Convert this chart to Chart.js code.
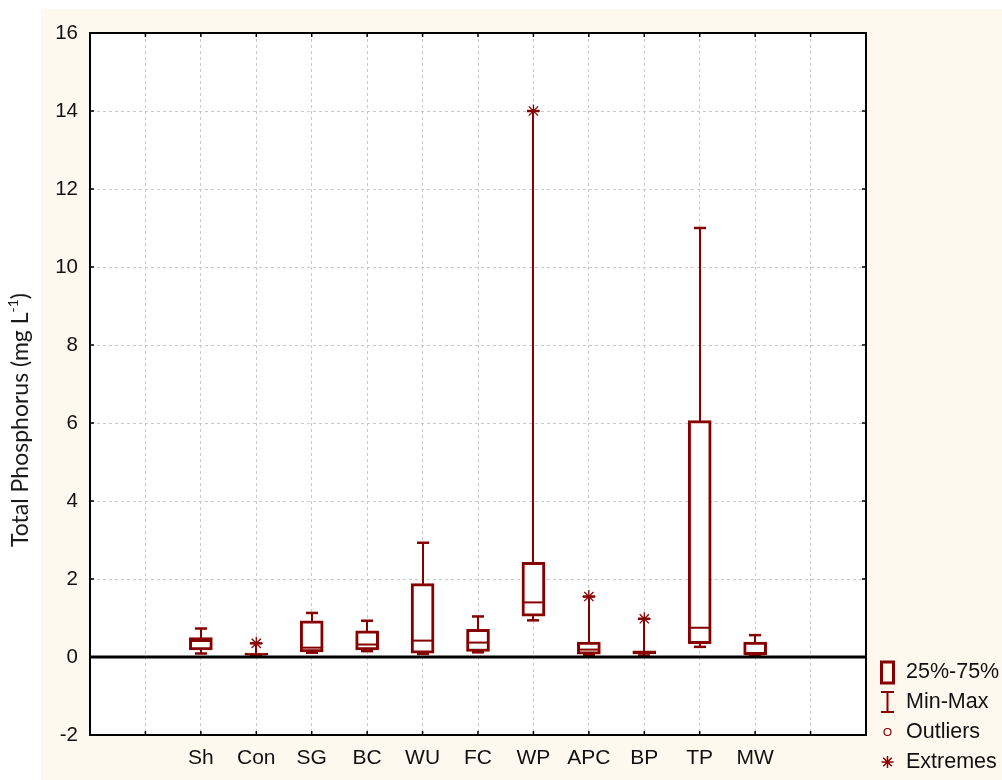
<!DOCTYPE html>
<html>
<head>
<meta charset="utf-8">
<script src="https://cdn.jsdelivr.net/npm/chart.js@4.4.1/dist/chart.umd.min.js"></script>
<style>
  html, body { margin: 0; padding: 0; background: #ffffff; }
  canvas { display: block; }
</style>
</head>
<body>
<canvas id="chart" width="1002" height="780"></canvas>
<script>
// Sampling sites and their total phosphorus summaries (mg L-1)
const categories = ['Sh', 'Con', 'SG', 'BC', 'WU', 'FC', 'WP', 'APC', 'BP', 'TP', 'MW'];
const minValues    = [0.09, 0.03, 0.11, 0.15, 0.08, 0.12, 0.94, 0.05, 0.04, 0.26, 0.04];
const q1Values     = [0.18, 0.05, 0.13, 0.18, 0.10, 0.14, 1.05, 0.07, 0.08, 0.34, 0.06];
const medianValues = [0.41, 0.07, 0.24, 0.32, 0.42, 0.37, 1.40, 0.19, 0.12, 0.75, 0.07];
const q3Values     = [0.50, 0.10, 0.93, 0.67, 1.88, 0.71, 2.43, 0.38, 0.16, 6.06, 0.38];
const maxValues    = [0.73, 0.35, 1.13, 0.93, 2.93, 1.04, 14.0, 1.55, 0.98, 11.0, 0.56];
// Extreme observations, as [site, value]
const extremeSites  = ['Con', 'WP', 'APC', 'BP'];
const extremeValues = [0.35, 14.0, 1.55, 0.98];
const yTicks = [-2, 0, 2, 4, 6, 8, 10, 12, 14, 16];

const RED = '#870000';
const FIRST_POS = 2; // sites sit at x = 2 .. 12 on a 0 .. 14 axis
const posOf = (name) => categories.indexOf(name) + FIRST_POS;

const boxData = categories.map((c, i) => ({ x: i + FIRST_POS, y: [q1Values[i], q3Values[i]] }));
const extremeData = extremeSites.map((s, i) => ({ x: posOf(s), y: extremeValues[i] }));

const boxPlotParts = {
  id: 'boxPlotParts',
  beforeDraw(chart) {
    const { ctx, chartArea: a } = chart;
    ctx.save();
    ctx.fillStyle = '#ffffff';
    ctx.fillRect(0, 0, chart.width, chart.height);
    ctx.fillStyle = '#fef9ee';
    ctx.fillRect(41, 9, chart.width - 41, chart.height - 9);
    ctx.fillStyle = '#ffffff';
    ctx.fillRect(a.left, a.top, a.right - a.left, a.bottom - a.top);
    ctx.restore();
  },
  beforeDatasetsDraw(chart) {
    const { ctx, scales: { x, y } } = chart;
    ctx.save();
    ctx.strokeStyle = RED;
    categories.forEach((c, i) => {
      const px = Math.round(x.getPixelForValue(i + FIRST_POS));
      ctx.lineWidth = 2;
      ctx.beginPath();
      ctx.moveTo(px, y.getPixelForValue(maxValues[i]));
      ctx.lineTo(px, y.getPixelForValue(minValues[i]));
      ctx.stroke();
      ctx.lineWidth = 2.5;
      [maxValues[i], minValues[i]].forEach(v => {
        const py = y.getPixelForValue(v);
        ctx.beginPath();
        ctx.moveTo(px - 6, py);
        ctx.lineTo(px + 6, py);
        ctx.stroke();
      });
    });
    ctx.restore();
  },
  afterDatasetsDraw(chart) {
    const { ctx, chartArea: a, scales: { x, y } } = chart;
    ctx.save();
    // medians
    ctx.strokeStyle = RED;
    ctx.lineWidth = 2;
    categories.forEach((c, i) => {
      const px = x.getPixelForValue(i + FIRST_POS);
      const py = y.getPixelForValue(medianValues[i]);
      ctx.beginPath();
      ctx.moveTo(px - 10, py);
      ctx.lineTo(px + 10, py);
      ctx.stroke();
    });
    // zero reference line
    const y0 = y.getPixelForValue(0);
    ctx.strokeStyle = '#000000';
    ctx.lineWidth = 3;
    ctx.beginPath();
    ctx.moveTo(a.left, y0);
    ctx.lineTo(a.right, y0);
    ctx.stroke();
    // frame
    ctx.lineWidth = 2;
    ctx.strokeRect(a.left, a.top, a.right - a.left, a.bottom - a.top);
    // inward tick marks
    ctx.lineWidth = 1.5;
    for (let v = 1; v <= 13; v++) {
      const px = x.getPixelForValue(v);
      ctx.beginPath();
      ctx.moveTo(px, a.top); ctx.lineTo(px, a.top + 4);
      ctx.moveTo(px, a.bottom); ctx.lineTo(px, a.bottom - 4);
      ctx.stroke();
    }
    yTicks.forEach(v => {
      const py = y.getPixelForValue(v);
      ctx.beginPath();
      ctx.moveTo(a.left, py); ctx.lineTo(a.left + 4, py);
      ctx.moveTo(a.right, py); ctx.lineTo(a.right - 4, py);
      ctx.stroke();
    });
    ctx.restore();
  },
  afterDraw(chart) {
    const { ctx } = chart;
    ctx.save();
    // y-axis title with superscript exponent
    const main = 'Total Phosphorus (mg L';
    const sup = '-1';
    const tail = ')';
    const f1 = '23px Lato, "Open Sans", sans-serif';
    const f2 = '14px Lato, "Open Sans", sans-serif';
    ctx.font = f1;
    const w1 = ctx.measureText(main).width;
    const w3 = ctx.measureText(tail).width;
    ctx.font = f2;
    const w2 = ctx.measureText(sup).width;
    const total = w1 + w2 + w3;
    ctx.translate(21, 420);
    ctx.rotate(-Math.PI / 2);
    ctx.fillStyle = '#1a1a1a';
    ctx.textBaseline = 'middle';
    ctx.textAlign = 'left';
    let cx = -total / 2;
    ctx.font = f1; ctx.fillText(main, cx, 0); cx += w1;
    ctx.font = f2; ctx.fillText(sup, cx, -8); cx += w2;
    ctx.font = f1; ctx.fillText(tail, cx, 0);
    ctx.restore();

    // legend
    ctx.save();
    ctx.font = '21.5px "Liberation Sans", Arial, sans-serif';
    ctx.fillStyle = '#111111';
    ctx.textBaseline = 'middle';
    ctx.textAlign = 'left';
    const lx = 887, tx = 906;
    const rows = [672, 702, 732, 762];
    ctx.strokeStyle = RED;
    // box
    ctx.lineWidth = 3;
    ctx.strokeRect(lx - 5.5, rows[0] - 10, 12, 21);
    // whisker
    ctx.lineWidth = 2;
    ctx.beginPath();
    ctx.moveTo(lx - 6, rows[1] - 10); ctx.lineTo(lx + 7, rows[1] - 10);
    ctx.moveTo(lx + 0.5, rows[1] - 10); ctx.lineTo(lx + 0.5, rows[1] + 10);
    ctx.moveTo(lx - 6, rows[1] + 10); ctx.lineTo(lx + 7, rows[1] + 10);
    ctx.stroke();
    // outlier circle
    ctx.lineWidth = 1.2;
    ctx.beginPath();
    ctx.arc(lx + 0.5, rows[2], 3.5, 0, Math.PI * 2);
    ctx.stroke();
    // extreme star
    ctx.lineWidth = 1.5;
    const r = 6;
    ctx.beginPath();
    for (let k = 0; k < 4; k++) {
      const ang = k * Math.PI / 4;
      ctx.moveTo(lx + 0.5 + r * Math.cos(ang), rows[3] + r * Math.sin(ang));
      ctx.lineTo(lx + 0.5 - r * Math.cos(ang), rows[3] - r * Math.sin(ang));
    }
    ctx.stroke();
    ctx.fillText('25%-75%', tx, rows[0]);
    ctx.fillText('Min-Max', tx, rows[1]);
    ctx.fillText('Outliers', tx, rows[2]);
    ctx.fillText('Extremes', tx, rows[3]);
    ctx.restore();
  }
};

const gridColor = (hidden) => (ctx) =>
  (ctx.tick && hidden.includes(ctx.tick.value)) ? 'rgba(0,0,0,0)' : '#c9c9c9';

new Chart(document.getElementById('chart'), {
  type: 'bar',
  data: {
    datasets: [
      {
        type: 'bar',
        data: boxData,
        backgroundColor: '#ffffff',
        borderColor: RED,
        borderWidth: 3,
        borderSkipped: false,
        barThickness: 23,
        order: 2
      },
      {
        type: 'scatter',
        data: extremeData,
        pointStyle: 'star',
        radius: 6.5,
        borderColor: RED,
        backgroundColor: RED,
        borderWidth: 1.3,
        order: 1
      }
    ]
  },
  options: {
    responsive: false,
    animation: false,
    events: [],
    layout: { padding: { left: 0, top: 33, right: 136, bottom: 0 } },
    plugins: { legend: { display: false }, tooltip: { enabled: false } },
    scales: {
      x: {
        type: 'linear',
        min: 0,
        max: 14,
        offset: false,
        grid: { color: gridColor([0, 14]), drawTicks: false, lineWidth: 1, offset: false },
        border: { display: true, color: '#000', width: 2, dash: [3, 3] },
        ticks: {
          stepSize: 1,
          autoSkip: false,
          maxRotation: 0,
          padding: 11,
          color: '#111',
          font: { family: '"Liberation Sans", Arial, sans-serif', size: 21 },
          callback: (v) => categories[v - FIRST_POS] ?? ''
        },
        afterFit: (s) => { s.height = 45; }
      },
      y: {
        min: -2,
        max: 16,
        grid: { color: gridColor([-2, 0, 16]), drawTicks: false, lineWidth: 1 },
        border: { display: true, color: '#000', width: 2, dash: [3, 3] },
        ticks: {
          stepSize: 2,
          padding: 12,
          color: '#111',
          font: { family: '"Liberation Sans", Arial, sans-serif', size: 20.5 }
        },
        afterFit: (s) => { s.width = 90; }
      }
    }
  },
  plugins: [boxPlotParts]
});
</script>
</body>
</html>
